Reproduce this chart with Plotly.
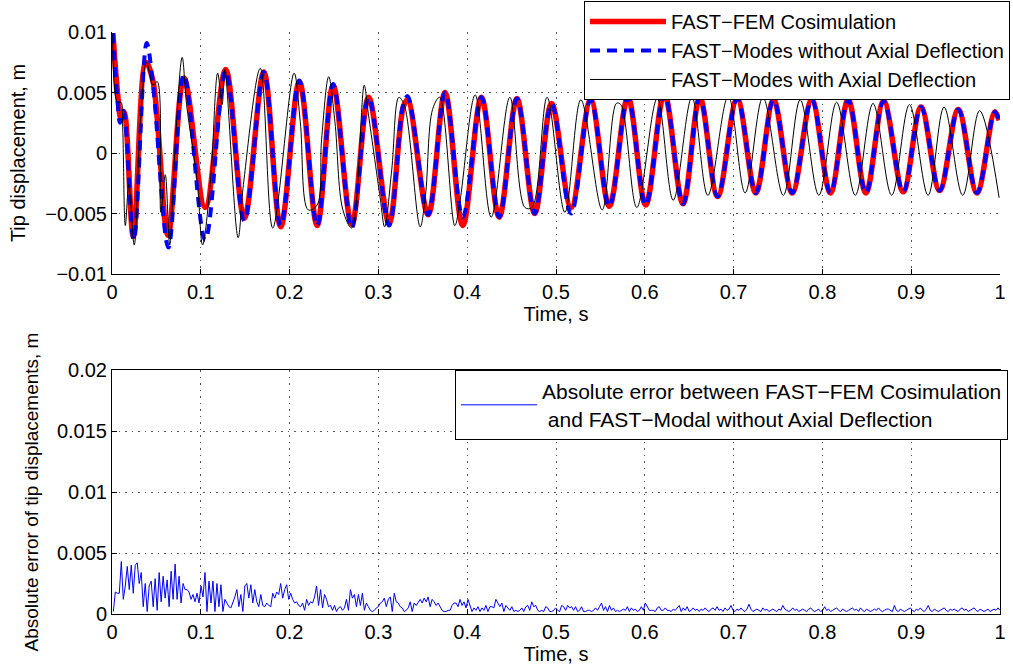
import plotly.graph_objects as go

# ---------------- Top panel data (time in s, tip displacement in m) ----------------
fem_t = [0.001, 0.007, 0.010, 0.0135, 0.024, 0.038, 0.046, 0.063, 0.081, 0.105,
         0.128, 0.149, 0.171, 0.190, 0.211, 0.231, 0.249, 0.270, 0.289, 0.312,
         0.328, 0.333, 0.356, 0.375, 0.395, 0.416, 0.436, 0.456, 0.476, 0.495,
         0.517, 0.539, 0.560, 0.581, 0.601, 0.622, 0.643, 0.662, 0.682, 0.704,
         0.725, 0.745, 0.766, 0.788, 0.809, 0.829, 0.849, 0.869, 0.891, 0.911,
         0.932, 0.953, 0.974, 0.994, 0.999]
fem_v = [0.0099, 0.0044, 0.0029, 0.0034, -0.0069, 0.0075, 0.0060, -0.0068, 0.0062, -0.0045,
         0.0069, -0.0054, 0.0067, -0.0061, 0.0059, -0.0060, 0.0056, -0.0059, 0.0046, -0.0058,
         0.0038, 0.0044, -0.0051, 0.0050, -0.0060, 0.0046, -0.0053, 0.0045, -0.0050, 0.0041,
         -0.0045, 0.0044, -0.0044, 0.0046, -0.0043, 0.0049, -0.0042, 0.0046, -0.0036, 0.0045,
         -0.0033, 0.0044, -0.0033, 0.0044, -0.0033, 0.0044, -0.0033, 0.0043, -0.0032, 0.0038,
         -0.0031, 0.0036, -0.0033, 0.0034, 0.0027]

modes_t = [0.001, 0.006, 0.009, 0.013, 0.0245, 0.039, 0.046, 0.0635, 0.081, 0.105,
           0.128, 0.149, 0.171, 0.190, 0.211, 0.231, 0.249, 0.270, 0.289, 0.312,
           0.328, 0.333, 0.356, 0.375, 0.395, 0.416, 0.436, 0.456, 0.476, 0.495,
           0.517, 0.539, 0.560, 0.581, 0.601, 0.622, 0.643, 0.662, 0.682, 0.704,
           0.725, 0.745, 0.766, 0.788, 0.809, 0.829, 0.849, 0.869, 0.891, 0.911,
           0.932, 0.953, 0.974, 0.994, 0.999]
modes_v = [0.0099, 0.0045, 0.0025, 0.0035, -0.0072, 0.0091, 0.0058, -0.0078, 0.0065, -0.0072,
           0.0068, -0.0056, 0.0067, -0.0060, 0.0060, -0.0060, 0.0057, -0.0062, 0.0046, -0.0060,
           0.0040, 0.0047, -0.0051, 0.0050, -0.0053, 0.0046, -0.0053, 0.0045, -0.0050, 0.0041,
           -0.0050, 0.0044, -0.0044, 0.0046, -0.0043, 0.0049, -0.0042, 0.0046, -0.0036, 0.0045,
           -0.0033, 0.0044, -0.0033, 0.0044, -0.0033, 0.0044, -0.0033, 0.0043, -0.0032, 0.0038,
           -0.0031, 0.0036, -0.0033, 0.0034, 0.0027]

axial_t = [0.001, 0.006, 0.010, 0.012, 0.015, 0.019, 0.025, 0.032, 0.039, 0.046,
           0.051, 0.055, 0.060, 0.065, 0.071, 0.079, 0.084, 0.096, 0.102, 0.111,
           0.119, 0.124, 0.127, 0.142, 0.148, 0.167, 0.181, 0.205, 0.212, 0.221,
           0.231, 0.236, 0.244, 0.251, 0.260, 0.270, 0.284, 0.288, 0.302, 0.307,
           0.315, 0.323, 0.329, 0.347, 0.353, 0.361, 0.369, 0.386, 0.392, 0.409,
           0.427, 0.448, 0.465, 0.473, 0.490, 0.510, 0.528, 0.552, 0.568, 0.573,
           0.591, 0.614, 0.632, 0.653, 0.671, 0.694, 0.713, 0.733, 0.756, 0.775,
           0.796, 0.816, 0.837, 0.857, 0.878, 0.898, 0.919, 0.937, 0.958, 0.977,
           0.999]
axial_v = [0.0099, 0.0042, 0.0042, 0.0021, -0.0060, -0.0026, -0.0076, 0.0026, 0.0075, 0.0056,
           0.0059, -0.0049, -0.0018, -0.0076, 0.0004, 0.0079, 0.0040, -0.0024, -0.0076, -0.0022,
           0.0066, 0.0040, 0.0069, -0.0070, -0.0026, 0.0070, -0.0062, 0.0066, 0.0026, -0.0047,
           -0.0043, 0.0011, 0.0063, 0.0026, -0.0047, -0.0062, 0.0056, 0.0036, -0.0037, -0.0061,
           -0.0014, 0.0046, 0.0040, -0.0061, -0.0035, 0.0036, 0.0046, -0.0060, -0.0039, 0.0048,
           -0.0053, 0.0046, -0.0045, -0.0045, 0.0046, -0.0049, 0.0044, -0.0047, 0.0041, 0.0040,
           -0.0045, 0.0045, -0.0039, 0.0046, -0.0035, 0.0047, -0.0033, 0.0046, -0.0035, 0.0044,
           -0.0035, 0.0042, -0.0035, 0.0041, -0.0035, 0.0040, -0.0035, 0.0038, -0.0035, 0.0035,
           -0.0037]

# ---------------- Bottom panel data: absolute error, in units of 1e-4 m ----------------
abs_error_1e4m = [
    2, 18, 17, 17, 43, 12, 23, 39, 20, 40,
    17, 40, 42, 25, 34, 6, 25, 2, 23, 27,
    6, 29, 3, 34, 10, 31, 13, 28, 6, 35,
    12, 41, 12, 31, 9, 25, 20, 20, 18, 12,
    16, 10, 17, 9, 23, 14, 34, 2, 27, 9,
    27, 2, 25, 6, 24, 2, 12, 9, 6, 5,
    9, 14, 20, 6, 16, 2, 23, 25, 13, 24,
    9, 20, 10, 6, 16, 7, 6, 9, 7, 6,
    17, 13, 18, 16, 25, 13, 20, 24, 12, 17,
    12, 9, 10, 7, 6, 9, 3, 12, 7, 10,
    9, 14, 23, 7, 20, 5, 16, 12, 6, 7,
    3, 7, 2, 5, 6, 3, 5, 12, 3, 20,
    13, 16, 6, 16, 7, 17, 3, 9, 6, 3,
    2, 3, 5, 6, 9, 10, 13, 6, 12, 14,
    2, 17, 10, 9, 6, 5, 2, 3,
    5, 10, 2, 9, 7, 10, 12, 9, 13, 10,
    14, 6, 12, 10, 7, 9, 6, 3, 2, 2,
    3, 3, 7, 9, 9, 6, 12, 7, 10, 5,
    12, 7, 2, 5, 3, 6, 2, 5, 3, 7,
    2, 6, 6, 5, 12, 9, 6, 9, 2, 7,
    5, 3, 6, 2, 3, 2, 3, 5, 2, 6,
    7, 3, 10, 6, 7, 3, 2, 3, 2, 6,
    5, 2, 2, 3, 5, 3, 2, 7, 6, 3,
    7, 5, 6, 3, 6, 2, 3, 6, 2, 2,
    3, 3, 2, 3, 5, 3, 6, 9, 3, 6,
    2, 7, 3, 5, 2, 3, 2, 3, 4, 3,
    6, 2, 5, 3, 4, 2, 3, 6, 3, 9,
    6, 3, 3, 3, 2, 5, 6, 3, 3, 5,
    3, 3, 2, 4, 3, 5, 7, 2, 5, 3,
    6, 2, 3, 5,
    3, 4, 2, 4, 3, 5, 3, 2, 4, 5, 3,
    6,
    3, 4, 2, 5, 3, 4,
    7,
    3, 2, 4, 3, 5, 3, 2, 4,
    8,
    4, 2, 3, 4, 3, 2,
    5,
    3, 4, 2, 3, 4, 3, 2, 4, 3,
    7,
    4, 3, 2, 3, 5, 3, 4, 2, 3, 4, 3, 2, 4, 5, 3, 2, 3, 4, 2, 3,
    6,
    3, 4, 2, 3, 4, 5, 3, 2, 4, 3, 2, 3, 4, 5, 3, 4, 2,
    5,
    3, 2, 4, 3, 2, 3, 4, 3, 5, 3, 2, 3, 4, 4, 3, 2,
    7,
    3, 2, 4, 3, 2, 3, 4,
    5,
    3, 2, 4, 3, 5, 3, 2, 4,
    7,
    3, 2, 4, 3, 2, 3, 4, 5, 3, 2, 4, 3, 4, 3, 2, 4,
    5,
    3, 4, 2, 3, 4, 5, 3, 2, 4, 3, 2, 3, 4, 2, 3, 4, 3,
    5, 3,
]
err_t_start = 0.0015
err_t_end = 1.0

x_ticks = [0, 0.1, 0.2, 0.3, 0.4, 0.5, 0.6, 0.7, 0.8, 0.9, 1]
x_ticktext = ["0", "0.1", "0.2", "0.3", "0.4", "0.5", "0.6", "0.7", "0.8", "0.9", "1"]
y1_ticks = [-0.01, -0.005, 0, 0.005, 0.01]
y1_ticktext = ["\u22120.01", "\u22120.005", "0", "0.005", "0.01"]
y2_ticks = [0, 0.005, 0.01, 0.015, 0.02]
y2_ticktext = ["0", "0.005", "0.01", "0.015", "0.02"]

# ---------------------------------------------------------------------------
n_err = len(abs_error_1e4m)
err_step = (err_t_end - err_t_start) / (n_err - 1)
err_t = [err_t_start + i * err_step for i in range(n_err)]
err_v = [v * 1e-4 for v in abs_error_1e4m]

FONT = "Liberation Sans, Arial, Helvetica, sans-serif"

fig = go.Figure()
fig.add_trace(go.Scatter(x=fem_t, y=fem_v, mode="lines", name="FAST\u2212FEM Cosimulation",
                         line=dict(color="#ff0000", width=5.5, shape="spline", smoothing=1.0),
                         xaxis="x", yaxis="y", legend="legend"))
fig.add_trace(go.Scatter(x=modes_t, y=modes_v, mode="lines",
                         name="FAST\u2212Modes without Axial Deflection",
                         line=dict(color="#0000ff", width=4, dash="10px,7px", shape="spline", smoothing=1.0),
                         xaxis="x", yaxis="y", legend="legend"))
fig.add_trace(go.Scatter(x=axial_t, y=axial_v, mode="lines",
                         name="FAST\u2212Modes with Axial Deflection",
                         line=dict(color="#000000", width=1, shape="spline", smoothing=1.0),
                         xaxis="x", yaxis="y", legend="legend"))
fig.add_trace(go.Scatter(x=err_t, y=err_v, mode="lines",
                         name="Absolute error between FAST\u2212FEM Cosimulation<br> and FAST\u2212Modal without Axial Deflection",
                         line=dict(color="#0000ff", width=1),
                         xaxis="x2", yaxis="y2", legend="legend2"))

ax_common = dict(ticks="inside", ticklen=5, tickcolor="black", showline=True, linecolor="black",
                 linewidth=1, showgrid=True, gridcolor="#555555", griddash="1.5px,5px", gridwidth=1,
                 zeroline=False, automargin=False,
                 tickfont=dict(family=FONT, size=20, color="black"))

fig.update_layout(
    width=1013, height=669,
    paper_bgcolor="white", plot_bgcolor="white",
    margin=dict(l=112, r=13, t=32, b=55, autoexpand=False),
    font=dict(family=FONT, size=20, color="black"),
    xaxis=dict(domain=[0, 1], range=[0, 1], tickvals=x_ticks, ticktext=x_ticktext, anchor="y",
               mirror=False, title=dict(text="Time, s", standoff=0, font=dict(size=20)), **ax_common),
    yaxis=dict(domain=[0.5842, 1], range=[-0.01, 0.01], tickvals=y1_ticks, ticktext=y1_ticktext,
               anchor="x", mirror=False,
               title=dict(text="Tip displacement, m", standoff=14, font=dict(size=20)), **ax_common),
    xaxis2=dict(domain=[0, 1], range=[0, 1], tickvals=x_ticks, ticktext=x_ticktext, anchor="y2",
                mirror=True, title=dict(text="Time, s", standoff=0, font=dict(size=20)), **ax_common),
    yaxis2=dict(domain=[0, 0.4192], range=[0, 0.02], tickvals=y2_ticks, ticktext=y2_ticktext,
                anchor="x2", mirror=True,
                title=dict(text="Absolute error of tip displacements, m", standoff=13, font=dict(size=19)),
                **ax_common),
    legend=dict(x=1.0113, xanchor="right", y=1.0533, yanchor="top", bgcolor="white",
                bordercolor="black", borderwidth=1, font=dict(family=FONT, size=20, color="black"),
                tracegroupgap=0, itemwidth=76),
    legend2=dict(x=1.009, xanchor="right", y=0.4192, yanchor="top", bgcolor="white",
                 bordercolor="black", borderwidth=1, font=dict(family=FONT, size=21, color="black"),
                 itemwidth=76),
    showlegend=True,
)

fig.write_html("out.html", config={"displayModeBar": False},
               post_script="document.body.style.margin='0';document.body.style.padding='0';")
